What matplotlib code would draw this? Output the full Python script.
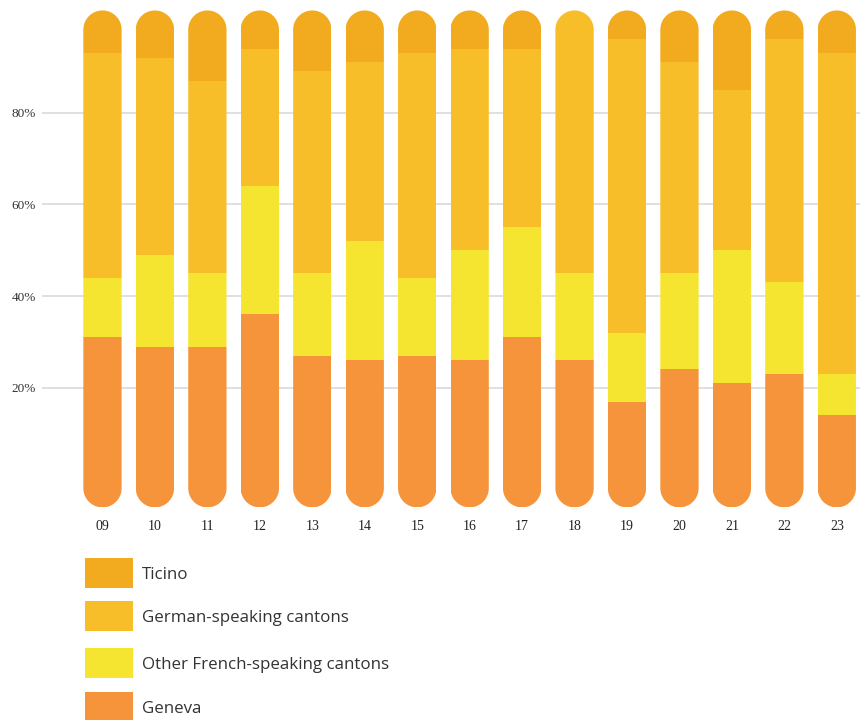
import numpy as np
import matplotlib
matplotlib.use('Agg')
import matplotlib.pyplot as plt
from matplotlib.patches import PathPatch, Rectangle
from matplotlib.path import Path

# ---- data ----
years = ['09', '10', '11', '12', '13', '14', '15', '16', '17', '18', '19', '20', '21', '22', '23']
geneva = [31, 29, 29, 36, 27, 26, 27, 26, 31, 26, 17, 24, 21, 23, 14]
other_french = [13, 20, 16, 28, 18, 26, 17, 24, 24, 19, 15, 21, 29, 20, 9]
german = [49, 43, 42, 30, 44, 39, 49, 44, 39, 55, 64, 46, 35, 53, 70]
ticino = [7, 8, 13, 6, 11, 9, 7, 6, 6, 0, 4, 9, 15, 4, 7]

series_names = ['Geneva', 'Other French-speaking cantons', 'German-speaking cantons', 'Ticino']
series_values = [geneva, other_french, german, ticino]
colors = ['#F5943A', '#F5E530', '#F7BE29', '#F2AB1E']
y_ticks = [20, 40, 60, 80]

# ---- figure ----
W, H = 860, 720
fig = plt.figure(figsize=(W / 100, H / 100), dpi=100)
ax_left, ax_bottom_px = 42, 515
ax = fig.add_axes([ax_left / W, (H - ax_bottom_px) / H, (W - ax_left) / W, ax_bottom_px / H])

x = np.arange(len(years))
bar_w = 0.73
px_per_x = 52.45
px_per_y = 4.588
ax.set_xlim(-1.153, 14.442)
ax.set_ylim(-7.74, 104.58)

aspect = px_per_x / px_per_y
ext_bottom = 6.08
ext_top = 2.3

ax.set_axisbelow(True)
ax.yaxis.grid(True, color='#dddddd', linewidth=1.3)
ax.xaxis.grid(False)

cum = np.zeros(len(years))
containers = []
for vals, col in zip(series_values, colors):
    vals = np.array(vals, dtype=float)
    bc = ax.bar(x, vals, bottom=cum, width=bar_w, color=col, linewidth=0, zorder=3)
    containers.append(bc)
    cum = cum + vals

# caps (rounded ends) in colors of the outermost segments
bottom_caps = ax.bar(x, ext_bottom, bottom=-ext_bottom, width=bar_w, color=colors[0], linewidth=0, zorder=3)
top_cols = []
for i in range(len(years)):
    c = colors[0]
    for vals, col in zip(series_values, colors):
        if vals[i] > 0:
            c = col
    top_cols.append(c)
top_caps = ax.bar(x, ext_top, bottom=cum, width=bar_w, color=top_cols, linewidth=0, zorder=3)
containers += [bottom_caps, top_caps]


def pill_path(xc, y0, y1, w, asp, n=40):
    rx = w / 2
    ry = rx * asp
    t_top = np.linspace(0, np.pi, n)
    t_bot = np.linspace(np.pi, 2 * np.pi, n)
    top = np.column_stack([xc + rx * np.cos(t_top), (y1 - ry) + ry * np.sin(t_top)])
    bot = np.column_stack([xc + rx * np.cos(t_bot), (y0 + ry) + ry * np.sin(t_bot)])
    verts = np.vstack([top, bot, top[:1]])
    codes = [Path.MOVETO] + [Path.LINETO] * (len(verts) - 2) + [Path.CLOSEPOLY]
    return Path(verts, codes)


pills = []
for i in range(len(years)):
    pp = PathPatch(pill_path(x[i], -ext_bottom, cum[i] + ext_top, bar_w, aspect),
                   transform=ax.transData, facecolor='none', edgecolor='none')
    pills.append(pp)
for bc in containers:
    for i, p in enumerate(bc.patches):
        p.set_clip_path(pills[i])

for s in ax.spines.values():
    s.set_visible(False)

ax.set_yticks(y_ticks)
ax.set_yticklabels([f'{t}%' for t in y_ticks], fontfamily='Liberation Serif', fontsize=9.5, color='#333333')
ax.set_xticks(x)
ax.set_xticklabels(years, fontfamily='Liberation Serif', fontsize=10, color='#222222')
ax.tick_params(axis='y', length=0, pad=4.5)
ax.tick_params(axis='x', length=0, pad=3.5)

# ---- legend (manual) ----
legend_order = [3, 2, 1, 0]
row_centers = [573, 616, 663, 707]
for yc, k in zip(row_centers, legend_order):
    fig.add_artist(Rectangle((85 / W, (H - yc - 15) / H), 48 / W, 30 / H,
                             transform=fig.transFigure, facecolor=colors[k], edgecolor='none'))
    fig.text(142 / W, (H - yc - 2) / H, series_names[k], fontfamily='Open Sans', fontsize=12.2,
             color='#333333', va='center', ha='left')

fig.savefig('out.png', dpi=100)
